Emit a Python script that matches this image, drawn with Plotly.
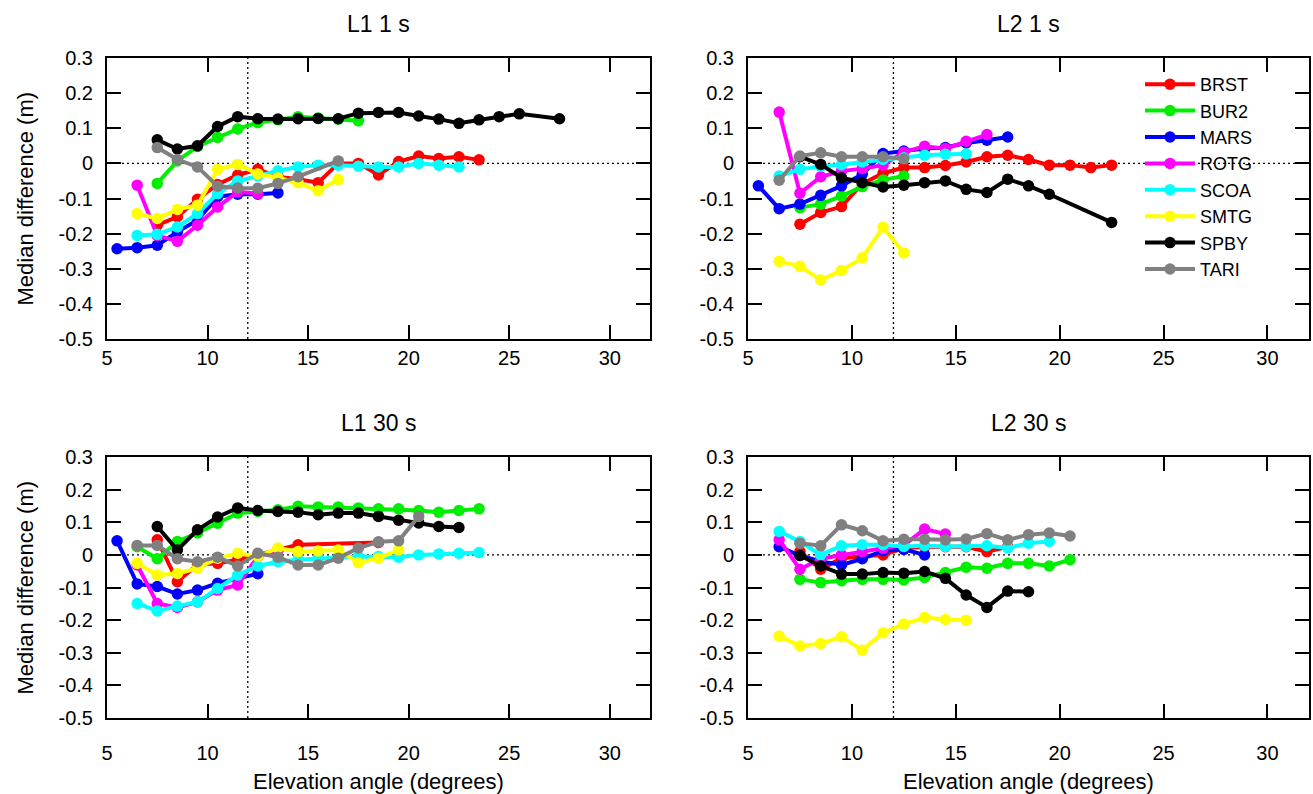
import plotly.graph_objects as go

# ---------------- data ----------------
STATIONS = ["BRST", "BUR2", "MARS", "ROTG", "SCOA", "SMTG", "SPBY", "TARI"]
COLORS = ["#ff0000", "#00ee00", "#0000ff", "#ff00ff", "#00ffff", "#ffff00", "#000000", "#808080"]
PANEL_TITLES = ["L1 1 s", "L2 1 s", "L1 30 s", "L2 30 s"]

X_TICKS = [5, 10, 15, 20, 25, 30]
X_TICK_LABELS = ["5", "10", "15", "20", "25", "30"]
Y_TICKS = [-0.5, -0.4, -0.3, -0.2, -0.1, 0.0, 0.1, 0.2, 0.3]
Y_TICK_LABELS = ["-0.5", "-0.4", "-0.3", "-0.2", "-0.1", "0", "0.1", "0.2", "0.3"]
ELEV_CUTOFF = 12
X_RANGE = [5, 32]
Y_RANGE = [-0.5, 0.3]

# L1 1 s
L1_1S_X = {
    "BRST": [7.5, 8.5, 9.5, 10.5, 11.5, 12.5, 13.5, 14.5, 15.5, 16.5, 17.5, 18.5, 19.5, 20.5, 21.5, 22.5, 23.5],
    "BUR2": [7.5, 8.5, 9.5, 10.5, 11.5, 12.5, 13.5, 14.5, 15.5, 16.5, 17.5],
    "MARS": [5.5, 6.5, 7.5, 8.5, 9.5, 10.5, 11.5, 12.5, 13.5],
    "ROTG": [6.5, 7.5, 8.5, 9.5, 10.5, 11.5, 12.5],
    "SCOA": [6.5, 7.5, 8.5, 9.5, 10.5, 11.5, 12.5, 13.5, 14.5, 15.5, 16.5, 17.5, 18.5, 19.5, 20.5, 21.5, 22.5],
    "SMTG": [6.5, 7.5, 8.5, 9.5, 10.5, 11.5, 12.5, 13.5, 14.5, 15.5, 16.5],
    "SPBY": [7.5, 8.5, 9.5, 10.5, 11.5, 12.5, 13.5, 14.5, 15.5, 16.5, 17.5, 18.5, 19.5, 20.5, 21.5, 22.5, 23.5, 24.5, 25.5, 27.5],
    "TARI": [7.5, 8.5, 9.5, 10.5, 11.5, 12.5, 13.5, 14.5, 16.5],
}
L1_1S_Y = {
    "BRST": [-0.176, -0.152, -0.102, -0.06, -0.033, -0.017, -0.038, -0.045, -0.055, 0.0, 0.0, -0.033, 0.005, 0.021, 0.014, 0.019, 0.01],
    "BUR2": [-0.057, 0.007, 0.048, 0.074, 0.098, 0.116, 0.124, 0.133, 0.129, 0.126, 0.121],
    "MARS": [-0.243, -0.24, -0.233, -0.195, -0.162, -0.095, -0.088, -0.088, -0.084],
    "ROTG": [-0.062, -0.205, -0.222, -0.176, -0.124, -0.081, -0.086],
    "SCOA": [-0.205, -0.202, -0.181, -0.143, -0.086, -0.05, -0.036, -0.021, -0.01, -0.005, -0.005, -0.008, -0.01, -0.01, 0.0, -0.005, -0.01],
    "SMTG": [-0.143, -0.157, -0.131, -0.119, -0.017, -0.003, -0.03, -0.041, -0.055, -0.078, -0.046],
    "SPBY": [0.067, 0.041, 0.05, 0.105, 0.133, 0.127, 0.126, 0.127, 0.128, 0.127, 0.143, 0.145, 0.145, 0.135, 0.126, 0.114, 0.124, 0.133, 0.141, 0.127],
    "TARI": [0.045, 0.011, -0.01, -0.065, -0.07, -0.071, -0.057, -0.038, 0.007],
}

# L2 1 s
L2_1S_X = {
    "BRST": [7.5, 8.5, 9.5, 10.5, 11.5, 12.5, 13.5, 14.5, 15.5, 16.5, 17.5, 18.5, 19.5, 20.5, 21.5, 22.5],
    "BUR2": [7.5, 8.5, 9.5, 10.5, 11.5, 12.5],
    "MARS": [5.5, 6.5, 7.5, 8.5, 9.5, 10.5, 11.5, 12.5, 13.5, 14.5, 15.5, 16.5, 17.5],
    "ROTG": [6.5, 7.5, 8.5, 9.5, 10.5, 11.5, 12.5, 13.5, 14.5, 15.5, 16.5],
    "SCOA": [6.5, 7.5, 8.5, 9.5, 10.5, 11.5, 12.5, 13.5, 14.5, 15.5],
    "SMTG": [6.5, 7.5, 8.5, 9.5, 10.5, 11.5, 12.5],
    "SPBY": [7.5, 8.5, 9.5, 10.5, 11.5, 12.5, 13.5, 14.5, 15.5, 16.5, 17.5, 18.5, 19.5, 22.5],
    "TARI": [6.5, 7.5, 8.5, 9.5, 10.5, 11.5, 12.5],
}
L2_1S_Y = {
    "BRST": [-0.173, -0.14, -0.123, -0.058, -0.028, -0.012, -0.012, -0.006, 0.004, 0.019, 0.023, 0.011, -0.005, -0.005, -0.012, -0.005],
    "BUR2": [-0.126, -0.116, -0.093, -0.066, -0.047, -0.036],
    "MARS": [-0.064, -0.129, -0.116, -0.091, -0.064, -0.031, 0.028, 0.035, 0.042, 0.045, 0.058, 0.066, 0.075],
    "ROTG": [0.146, -0.085, -0.038, -0.022, -0.015, -0.005, 0.032, 0.049, 0.042, 0.063, 0.082],
    "SCOA": [-0.036, -0.017, -0.008, -0.004, 0.004, 0.011, 0.016, 0.023, 0.026, 0.027],
    "SMTG": [-0.279, -0.293, -0.332, -0.305, -0.269, -0.182, -0.255],
    "SPBY": [0.019, -0.003, -0.041, -0.055, -0.067, -0.062, -0.055, -0.05, -0.074, -0.083, -0.045, -0.064, -0.088, -0.168],
    "TARI": [-0.048, 0.021, 0.03, 0.019, 0.019, 0.019, 0.013],
}

# L1 30 s
L1_30S_X = {
    "BRST": [7.5, 8.5, 9.5, 10.5, 11.5, 12.5, 13.5, 14.5, 18.5],
    "BUR2": [6.5, 7.5, 8.5, 9.5, 10.5, 11.5, 12.5, 13.5, 14.5, 15.5, 16.5, 17.5, 18.5, 19.5, 20.5, 21.5, 22.5, 23.5],
    "MARS": [5.5, 6.5, 7.5, 8.5, 9.5, 10.5, 11.5, 12.5],
    "ROTG": [6.5, 7.5, 8.5, 9.5, 10.5, 11.5, 12.5, 13.5],
    "SCOA": [6.5, 7.5, 8.5, 9.5, 10.5, 11.5, 12.5, 13.5, 14.5, 15.5, 16.5, 17.5, 18.5, 19.5, 20.5, 21.5, 22.5, 23.5],
    "SMTG": [6.5, 7.5, 8.5, 9.5, 10.5, 11.5, 12.5, 13.5, 14.5, 15.5, 16.5, 17.5, 18.5, 19.5],
    "SPBY": [7.5, 8.5, 9.5, 10.5, 11.5, 12.5, 13.5, 14.5, 15.5, 16.5, 17.5, 18.5, 19.5, 20.5, 21.5, 22.5],
    "TARI": [6.5, 7.5, 8.5, 9.5, 10.5, 11.5, 12.5, 13.5, 14.5, 15.5, 16.5, 17.5, 18.5, 19.5, 20.5],
}
L1_30S_Y = {
    "BRST": [0.046, -0.082, -0.03, -0.026, -0.015, 0.0, 0.015, 0.031, 0.038],
    "BUR2": [0.025, -0.012, 0.041, 0.067, 0.097, 0.128, 0.133, 0.138, 0.149, 0.147, 0.147, 0.144, 0.141, 0.141, 0.136, 0.131, 0.136, 0.141],
    "MARS": [0.043, -0.089, -0.097, -0.12, -0.108, -0.087, -0.072, -0.058],
    "ROTG": [-0.031, -0.149, -0.161, -0.144, -0.108, -0.092, -0.005, 0.015],
    "SCOA": [-0.149, -0.172, -0.157, -0.144, -0.103, -0.062, -0.034, -0.021, -0.015, -0.01, -0.008, -0.005, -0.005, -0.007, 0.0, 0.003, 0.005, 0.007],
    "SMTG": [-0.026, -0.062, -0.057, -0.041, -0.01, 0.005, -0.005, 0.021, 0.01, 0.012, 0.015, -0.024, -0.01, 0.015],
    "SPBY": [0.087, 0.015, 0.077, 0.116, 0.144, 0.136, 0.133, 0.131, 0.123, 0.128, 0.128, 0.118, 0.106, 0.098, 0.087, 0.084],
    "TARI": [0.029, 0.029, -0.012, -0.021, -0.007, -0.034, 0.005, -0.007, -0.031, -0.031, -0.01, 0.021, 0.04, 0.043, 0.118],
}

# L2 30 s
L2_30S_X = {
    "BRST": [7.5, 8.5, 9.5, 10.5, 11.5, 12.5, 13.5, 14.5, 15.5, 16.5, 17.5],
    "BUR2": [7.5, 8.5, 9.5, 10.5, 11.5, 12.5, 13.5, 14.5, 15.5, 16.5, 17.5, 18.5, 19.5, 20.5],
    "MARS": [6.5, 7.5, 8.5, 9.5, 10.5, 11.5, 12.5, 13.5],
    "ROTG": [6.5, 7.5, 8.5, 9.5, 10.5, 11.5, 12.5, 13.5, 14.5],
    "SCOA": [6.5, 7.5, 8.5, 9.5, 10.5, 11.5, 12.5, 13.5, 14.5, 15.5, 16.5, 17.5, 18.5, 19.5],
    "SMTG": [6.5, 7.5, 8.5, 9.5, 10.5, 11.5, 12.5, 13.5, 14.5, 15.5],
    "SPBY": [7.5, 8.5, 9.5, 10.5, 11.5, 12.5, 13.5, 14.5, 15.5, 16.5, 17.5, 18.5],
    "TARI": [7.5, 8.5, 9.5, 10.5, 11.5, 12.5, 13.5, 14.5, 15.5, 16.5, 17.5, 18.5, 19.5, 20.5],
}
L2_30S_Y = {
    "BRST": [0.01, -0.044, -0.01, -0.005, 0.0, 0.02, 0.025, 0.025, 0.025, 0.01, 0.025],
    "BUR2": [-0.075, -0.085, -0.079, -0.075, -0.075, -0.077, -0.069, -0.054, -0.038, -0.041, -0.026, -0.026, -0.034, -0.015],
    "MARS": [0.025, -0.002, -0.02, -0.031, -0.012, 0.013, 0.017, 0.0],
    "ROTG": [0.046, -0.044, -0.012, 0.0, 0.01, 0.02, 0.03, 0.079, 0.064],
    "SCOA": [0.072, 0.041, 0.0, 0.028, 0.031, 0.031, 0.026, 0.028, 0.026, 0.026, 0.028, 0.021, 0.036, 0.041],
    "SMTG": [-0.249, -0.279, -0.272, -0.251, -0.292, -0.239, -0.212, -0.192, -0.198, -0.2],
    "SPBY": [-0.002, -0.034, -0.059, -0.059, -0.054, -0.056, -0.051, -0.072, -0.123, -0.161, -0.111, -0.113],
    "TARI": [0.036, 0.028, 0.092, 0.074, 0.043, 0.048, 0.048, 0.046, 0.049, 0.065, 0.046, 0.062, 0.067, 0.058],
}

PANELS = [(L1_1S_X, L1_1S_Y), (L2_1S_X, L2_1S_Y), (L1_30S_X, L1_30S_Y), (L2_30S_X, L2_30S_Y)]

# ---------------- layout geometry ----------------
W, H = 1313, 794
FONT = "Liberation Sans, Arial, Helvetica, sans-serif"
X_DOMAINS = [[107 / W, 650 / W], [748 / W, 1309 / W]]
Y_DOMAINS = [[1 - 339 / H, 1 - 58 / H], [1 - 718 / H, 1 - 457 / H]]

fig = go.Figure()
axis_ids = ["", "2", "3", "4"]

for p, (xs, ys) in enumerate(PANELS):
    ax = axis_ids[p]
    for s, name in enumerate(STATIONS):
        fig.add_trace(go.Scatter(
            x=xs[name], y=ys[name], mode="lines+markers", name=name,
            line=dict(color=COLORS[s], width=4),
            marker=dict(color=COLORS[s], size=11.5, symbol="circle", line=dict(width=0)),
            xaxis="x" + ax, yaxis="y" + ax,
            legendgroup=name, showlegend=(p == 1),
        ))

annotations = []
shapes = []
for p in range(4):
    row, col = divmod(p, 2)
    ax = axis_ids[p]
    xd = X_DOMAINS[col]
    yd = Y_DOMAINS[row]
    common = dict(showline=True, linecolor="black", linewidth=2, mirror="ticks",
                  ticks="inside", ticklen=14, tickwidth=2, tickcolor="black",
                  showgrid=False, zeroline=False, automargin=False,
                  tickfont=dict(family=FONT, size=20, color="black"))
    fig.layout["xaxis" + ax] = dict(domain=xd, anchor="y" + ax, range=X_RANGE,
                                    tickvals=X_TICKS, ticktext=X_TICK_LABELS,
                                    ticklabelstandoff=(0 if row == 0 else 16), **common)
    fig.layout["yaxis" + ax] = dict(domain=yd, anchor="x" + ax, range=Y_RANGE,
                                    tickvals=Y_TICKS, ticktext=Y_TICK_LABELS,
                                    ticklabelstandoff=8, **common)
    # reference lines
    shapes.append(dict(type="line", xref=("x" + ax + " domain") if ax else "x domain",
                       yref="y" + ax, x0=0, x1=1, y0=0, y1=0, layer="below",
                       line=dict(color="black", width=1.3, dash="2px,3px")))
    shapes.append(dict(type="line", xref="x" + ax, yref=("y" + ax + " domain") if ax else "y domain",
                       x0=ELEV_CUTOFF, x1=ELEV_CUTOFF, y0=0, y1=1, layer="below",
                       line=dict(color="black", width=1.3, dash="2px,3px")))
    # panel title
    annotations.append(dict(text=PANEL_TITLES[p], xref="paper", yref="paper",
                            x=(xd[0] + xd[1]) / 2, y=yd[1] + 34 / H, showarrow=False,
                            xanchor="center", yanchor="middle",
                            font=dict(family=FONT, size=23, color="black")))
    if col == 0:
        annotations.append(dict(text="Median difference (m)", xref="paper", yref="paper",
                                x=25 / W, y=(yd[0] + yd[1]) / 2, textangle=-90, showarrow=False,
                                xanchor="center", yanchor="middle",
                                font=dict(family=FONT, size=22, color="black")))
    if row == 1:
        annotations.append(dict(text="Elevation angle (degrees)", xref="paper", yref="paper",
                                x=(xd[0] + xd[1]) / 2, y=1 - 781 / H, showarrow=False,
                                xanchor="center", yanchor="middle",
                                font=dict(family=FONT, size=22, color="black")))

fig.update_layout(
    width=W, height=H, autosize=False,
    margin=dict(l=0, r=0, t=0, b=0, pad=0, autoexpand=False),
    paper_bgcolor="white", plot_bgcolor="white",
    annotations=annotations, shapes=shapes,
    legend=dict(x=1140 / W, y=1 - 66 / H, xanchor="left", yanchor="top",
                font=dict(family=FONT, size=18, color="black"),
                bgcolor="rgba(0,0,0,0)", tracegroupgap=0, itemwidth=50,
                traceorder="normal"),
    showlegend=True,
)

POST = (
    "document.documentElement.style.margin='0';"
    "document.documentElement.style.overflow='hidden';"
    "document.body.style.margin='0';"
    "document.body.style.overflow='hidden';"
)

fig.write_html("out.html", config={"displayModeBar": False}, post_script=POST)
